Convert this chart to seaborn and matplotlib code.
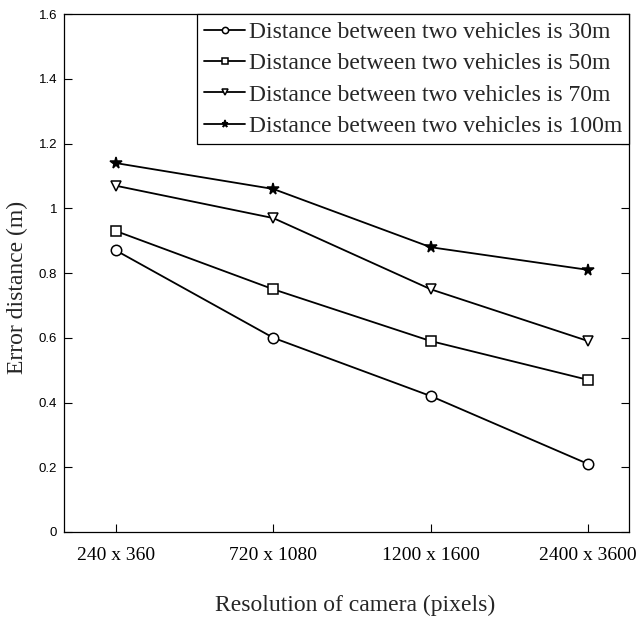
import matplotlib
matplotlib.use("Agg")
import matplotlib.pyplot as plt
import seaborn as sns
import pandas as pd

resolutions = ["240 x 360", "720 x 1080", "1200 x 1600", "2400 x 3600"]
series_labels = [
    "Distance between two vehicles is 30m",
    "Distance between two vehicles is 50m",
    "Distance between two vehicles is 70m",
    "Distance between two vehicles is 100m",
]
err_30m = [0.87, 0.60, 0.42, 0.21]
err_50m = [0.93, 0.75, 0.59, 0.47]
err_70m = [1.07, 0.97, 0.75, 0.59]
err_100m = [1.14, 1.06, 0.88, 0.81]
y_ticks = [0, 0.2, 0.4, 0.6, 0.8, 1.0, 1.2, 1.4, 1.6]
y_tick_labels = ["0", "0.2", "0.4", "0.6", "0.8", "1", "1.2", "1.4", "1.6"]

sns.set_style("ticks")
plt.rcParams["font.family"] = ["Liberation Serif", "DejaVu Serif"]

fig = plt.figure(figsize=(6.37, 6.2), dpi=100)
ax = fig.add_axes([0.1005, 0.142, 0.887, 0.835])

pos = list(range(len(resolutions)))
markers = ["o", "s", "v", "*"]
for vals, lab, m in zip([err_30m, err_50m, err_70m, err_100m], series_labels, markers):
    df = pd.DataFrame({"x": pos, "y": vals})
    ms = 8.5 if m == "*" else 7.5
    sns.lineplot(data=df, x="x", y="y", ax=ax, color="black", linewidth=1.3,
                 marker=m, markersize=ms, markerfacecolor="white" if m != "*" else "black",
                 markeredgecolor="black", markeredgewidth=1.1, label=lab)

ax.set_xlim(-0.33, 3.26)
ax.set_ylim(0, 1.6)
ax.set_xticks(pos)
ax.set_xticklabels(resolutions, fontsize=14, family=["Liberation Serif"])
ax.set_yticks(y_ticks)
ax.set_yticklabels(y_tick_labels, fontsize=9.5, family=["Liberation Sans"])
ax.tick_params(axis="x", direction="in", length=6, width=0.8, pad=11, colors="black")
ax.tick_params(axis="y", direction="in", length=6, width=0.8, pad=5, right=True, colors="black")
for s in ax.spines.values():
    s.set_visible(True)
    s.set_color("black")
    s.set_linewidth(0.9)

ax.set_xlabel("Resolution of camera (pixels)", fontsize=17)
ax.set_ylabel("Error distance (m)", fontsize=17)
ax.xaxis.set_label_coords(0.515, -0.121)
ax.yaxis.set_label_coords(-0.063, 0.473)

leg = ax.legend(loc="upper right", fontsize=17, frameon=True, fancybox=False,
                edgecolor="black", framealpha=1, borderpad=0.3, labelspacing=0.42,
                handlelength=1.75, handletextpad=0.15, markerscale=0.6,
                borderaxespad=0)
leg.get_frame().set_linewidth(0.9)

fig.savefig("out.png", dpi=100)
